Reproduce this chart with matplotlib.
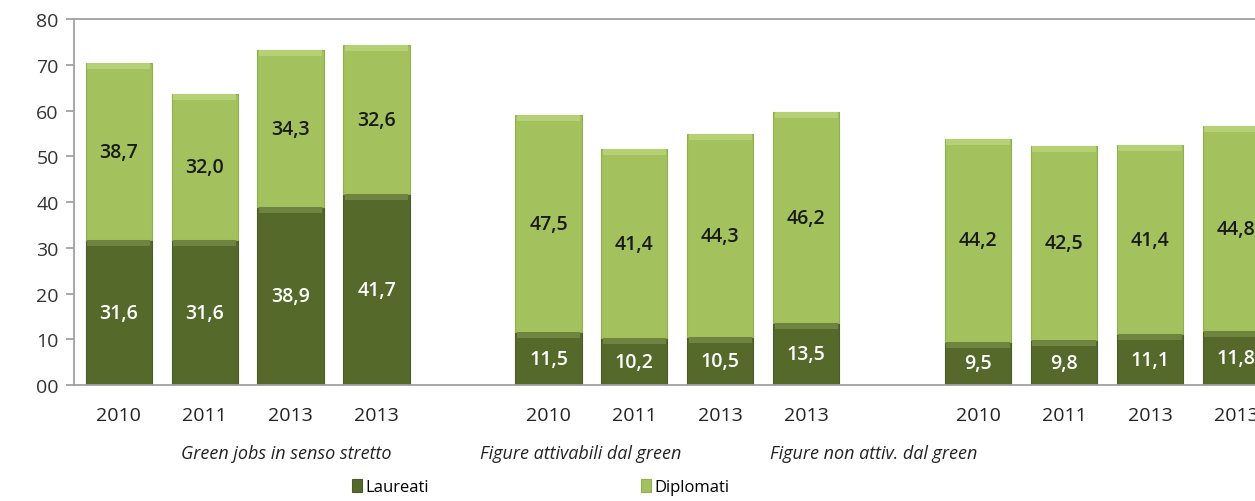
import numpy as np
from matplotlib import pyplot as plt

plt.rcParams['font.family'] = ['Open Sans', 'DejaVu Sans']

# dati
anni = ["2010", "2011", "2013", "2013"] * 3
gruppi = ["Green jobs in senso stretto", "Figure attivabili dal green", "Figure non attiv. dal green"]
laureati = [31.6, 31.6, 38.9, 41.7, 11.5, 10.2, 10.5, 13.5, 9.5, 9.8, 11.1, 11.8]
diplomati = [38.7, 32.0, 34.3, 32.6, 47.5, 41.4, 44.3, 46.2, 44.2, 42.5, 41.4, 44.8]
etichette_y = ["00", "10", "20", "30", "40", "50", "60", "70", "80"]

col_laureati = '#55692b'
col_diplomati = '#a3c25e'

# posizioni: 4 barre per gruppo, uno spazio di una barra tra i gruppi
x = np.array([i + (i // 4) for i in range(len(laureati))], dtype=float)
lau = np.array(laureati)
dip = np.array(diplomati)
w = 0.77

fig = plt.figure(figsize=(12.55, 5.02), dpi=100)
ax = fig.add_axes([0.0590, 0.231, 0.9410, 0.729])

ax.bar(x, lau, w, color=col_laureati, edgecolor='#4a5c25', linewidth=0.8, label='Laureati', zorder=2)
ax.bar(x, dip, w, bottom=lau, color=col_diplomati, edgecolor='#8fae4e', linewidth=0.8, label='Diplomati', zorder=2)

# piccolo effetto rilievo in cima ai segmenti
ax.bar(x, 1.3, w * 0.96, bottom=lau - 1.3, color='#6e8440', linewidth=0, zorder=3)
ax.bar(x, 1.3, w * 0.96, bottom=lau + dip - 1.3, color='#b6d175', linewidth=0, zorder=3)

for xi, l, d in zip(x, lau, dip):
    ax.text(xi, l / 2, f"{l:.1f}".replace('.', ','), ha='center', va='center',
            color='white', fontsize=14, fontweight='semibold', zorder=4)
    ax.text(xi, l + d / 2, f"{d:.1f}".replace('.', ','), ha='center', va='center',
            color='#1a1a1a', fontsize=14, fontweight='semibold', zorder=4)

ax.set_ylim(0, 80)
ax.set_yticks(range(0, 81, 10))
ax.set_yticklabels(etichette_y, fontsize=14, color='#333333')
ax.set_xlim(-0.519, 13.22)
ax.set_xticks(x)
ax.set_xticklabels(anni, fontsize=14, color='#222222')
ax.tick_params(axis='x', length=0, pad=15)
ax.tick_params(axis='y', length=6, color='#999999', width=1.2, pad=5)

for s in ['left', 'bottom', 'top']:
    ax.spines[s].set_color('#a0a0a0')
    ax.spines[s].set_linewidth(1.3)
ax.spines['right'].set_visible(False)

# etichette dei gruppi
pos_gruppi = [1.95, 5.37, 8.78]
for px, g in zip(pos_gruppi, gruppi):
    ax.text(px, -14.8, g, ha='center', va='center', fontsize=13, style='italic', color='#222222')

fig.legend(loc='center', bbox_to_anchor=(0.431, 0.028), ncol=2, frameon=False,
           fontsize=12, handlelength=0.6, handleheight=0.8, handletextpad=0.2, columnspacing=12.75)

fig.savefig('out.png', dpi=100)
